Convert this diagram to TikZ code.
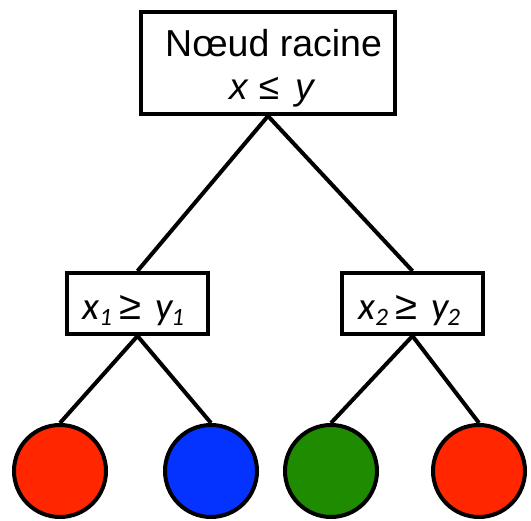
\documentclass[tikz,border=0pt]{standalone}
\usepackage{fontspec}
\setmainfont{Liberation Sans}
\newfontfamily\condfont{Carlito}
\definecolor{leafred}{RGB}{255,38,0}
\definecolor{leafblue}{RGB}{4,51,255}
\definecolor{leafgreen}{RGB}{31,139,0}
% italic variable with a lowered italic index (optional kern before the index)
\newcommand{\subvar}[3][0pt]{\textit{#2}\hspace{#1}\raisebox{-6pt}{\fontsize{25}{25}\selectfont\itshape #3}}
% relation sign taken from the main sans face
\newcommand{\relsign}[1]{{\rmfamily\fontsize{40}{40}\selectfont #1}}
\begin{document}
\begin{tikzpicture}[x=1pt,y=-1pt,
  box/.style={draw=black, line width=4pt, fill=white, inner sep=0pt},
  lbl/.style={anchor=base west, inner sep=0pt},
  leaf/.style={circle, draw=black, line width=4pt, minimum size=92pt, inner sep=0pt},
  edge/.style={line width=4pt}]
\useasboundingbox (0,0) rectangle (531,521);
% root test
\node[box, minimum width=254pt, minimum height=102pt] (root) at (268,63) {};
\node[lbl, font=\fontsize{37.5}{43}\selectfont] (roottitle) at (165,57) {Nœud racine};
\node[lbl, font=\fontsize{37}{43}\selectfont] (roottest) at (229,100)
  {\textit{x}\hspace{10pt}≤\hspace{16pt}\textit{y}};
% second level tests
\node[box, minimum width=141pt, minimum height=61pt] (left) at (137.5,303.5) {};
\node[box, minimum width=141pt, minimum height=61pt] (right) at (412.5,303.5) {};
\node[lbl, font=\condfont\fontsize{39}{44}\selectfont] (lefttest) at (82,320)
  {\subvar{x}{1}\hspace{7pt}\relsign{≥}\hspace{15pt}\subvar[-3pt]{y}{1}};
\node[lbl, font=\condfont\fontsize{39}{44}\selectfont] (righttest) at (358,320)
  {\subvar{x}{2}\hspace{7pt}\relsign{≥}\hspace{15pt}\subvar[-3pt]{y}{2}};
% leaves
\node[leaf, fill=leafred]   (l1) at (60,471)  {};
\node[leaf, fill=leafblue]  (l2) at (211,471) {};
\node[leaf, fill=leafgreen] (l3) at (331,471) {};
\node[leaf, fill=leafred]   (l4) at (479,471) {};
% connectors
\draw[edge] (root.south) -- (left.north);
\draw[edge] (root.south) -- (right.north);
\draw[edge] (left.south) -- (l1.north);
\draw[edge] (left.south) -- (l2.north);
\draw[edge] (right.south) -- (l3.north);
\draw[edge] (right.south) -- (l4.north);
\end{tikzpicture}
\end{document}
